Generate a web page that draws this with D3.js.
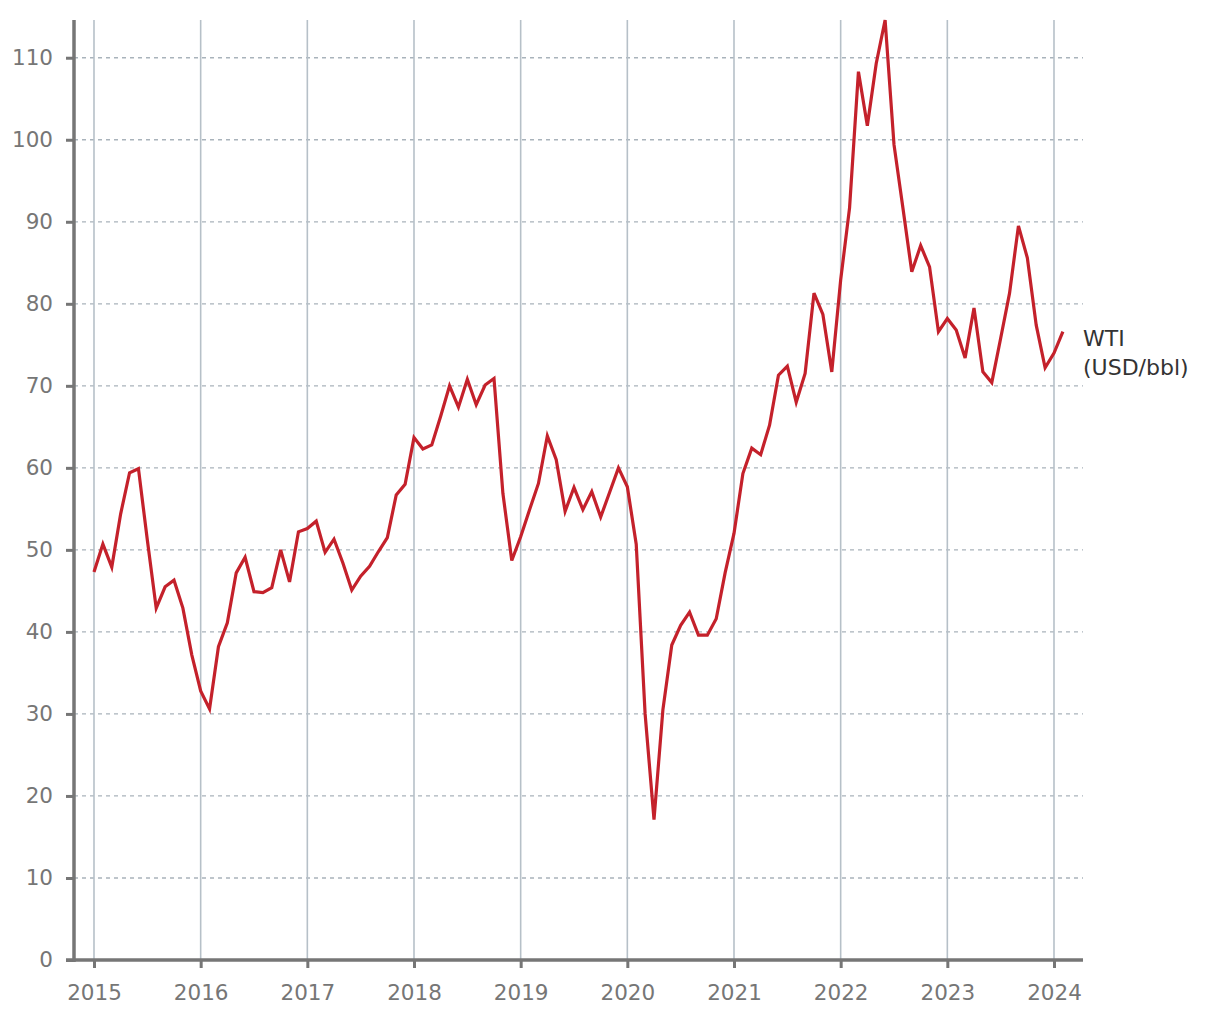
<!DOCTYPE html>
<html>
<head>
<meta charset="utf-8">
<script src="https://cdn.jsdelivr.net/npm/d3@7"></script>
<style>
  html, body { margin: 0; padding: 0; background: #fff; }
  svg { display: block; }
</style>
</head>
<body>
<script>
// ---- data ----
const startYear = 2015;
const wti = [
  // 2015
  47.3, 50.7, 47.9, 54.4, 59.4, 59.9, 51.2, 42.9, 45.5, 46.3, 42.9, 37.2,
  // 2016
  32.8, 30.6, 38.2, 41.1, 47.2, 49.1, 44.9, 44.8, 45.4, 50.0, 46.1, 52.2,
  // 2017
  52.6, 53.5, 49.7, 51.3, 48.4, 45.1, 46.8, 48.0, 49.8, 51.5, 56.7, 58.0,
  // 2018
  63.7, 62.3, 62.8, 66.3, 70.0, 67.4, 70.8, 67.7, 70.1, 70.9, 56.9, 48.7,
  // 2019
  51.6, 54.9, 58.1, 63.9, 61.0, 54.7, 57.6, 54.9, 57.1, 54.0, 57.0, 60.0,
  // 2020
  57.7, 50.7, 30.0, 17.1, 30.5, 38.4, 40.8, 42.4, 39.6, 39.6, 41.6, 47.2,
  // 2021
  52.0, 59.3, 62.4, 61.6, 65.2, 71.3, 72.4, 68.0, 71.5, 81.3, 78.7, 71.7,
  // 2022
  82.9, 91.7, 108.3, 101.7, 109.3, 114.6, 99.4, 91.7, 83.9, 87.1, 84.5, 76.6,
  // 2023
  78.2, 76.8, 73.4, 79.5, 71.7, 70.4, 75.8, 81.3, 89.5, 85.6, 77.4, 72.2,
  // 2024
  74.0, 76.6
];
const yearTicks = [2015, 2016, 2017, 2018, 2019, 2020, 2021, 2022, 2023, 2024];
const yTicks = [0, 10, 20, 30, 40, 50, 60, 70, 80, 90, 100, 110];
const seriesLabel = ["WTI", "(USD/bbl)"];

// ---- layout ----
const W = 1220, H = 1020;
const plotTop = 20, plotBottom = 960;
const axisLeftX = 74, axisRightX = 1083;

const data = wti.map((v, i) => ({ t: i / 12 + startYear, v }));

const x = d3.scaleLinear().domain([2015, 2024]).range([94, 1054]);
const y = d3.scaleLinear().domain([0, d3.max(wti)]).range([plotBottom, plotTop]);

const svg = d3.select("body").append("svg").attr("width", W).attr("height", H);
const font = "'DejaVu Sans', Verdana, sans-serif";

// horizontal dashed grid
svg.append("g").selectAll("line").data(yTicks.filter(d => d > 0)).join("line")
  .attr("x1", axisLeftX).attr("x2", axisRightX)
  .attr("y1", d => y(d)).attr("y2", d => y(d))
  .attr("stroke", "#a9b3bb").attr("stroke-width", 1.3)
  .attr("stroke-dasharray", "4,4");

// vertical grid
svg.append("g").selectAll("line").data(yearTicks).join("line")
  .attr("x1", d => x(d)).attr("x2", d => x(d))
  .attr("y1", plotTop).attr("y2", plotBottom)
  .attr("stroke", "#b6c0c8").attr("stroke-width", 1.6);

// x axis
const xAxis = d3.axisBottom(x).tickValues(yearTicks).tickFormat(d3.format("d"))
  .tickSize(8).tickPadding(17);
const gx = svg.append("g").attr("transform", `translate(0,${plotBottom})`).call(xAxis);
gx.select(".domain").remove();
gx.append("line").attr("x1", 66).attr("x2", axisRightX).attr("y1", 0).attr("y2", 0)
  .attr("stroke", "#767676").attr("stroke-width", 3.5);
gx.selectAll(".tick line").attr("stroke", "#767676").attr("stroke-width", 3);
gx.selectAll(".tick text").attr("fill", "#767676").attr("font-size", 21.5).attr("font-family", font);

// y axis
const yAxis = d3.axisLeft(y).tickValues(yTicks).tickSize(8).tickPadding(13);
const gy = svg.append("g").attr("transform", `translate(${axisLeftX},0)`).call(yAxis);
gy.select(".domain").remove();
gy.append("line").attr("x1", 0).attr("x2", 0).attr("y1", plotTop).attr("y2", plotBottom + 2)
  .attr("stroke", "#767676").attr("stroke-width", 3.5);
gy.selectAll(".tick line").attr("stroke", "#767676").attr("stroke-width", 3);
gy.selectAll(".tick text").attr("fill", "#767676").attr("font-size", 21.5).attr("font-family", font);

// line
const line = d3.line().x(d => x(d.t)).y(d => y(d.v));
svg.append("path").datum(data)
  .attr("d", line)
  .attr("fill", "none")
  .attr("stroke", "#c4212b")
  .attr("stroke-width", 3.2)
  .attr("stroke-linejoin", "miter");

// label
const last = data[data.length - 1];
const lbl = svg.append("text")
  .attr("x", axisRightX)
  .attr("y", y(last.v) + 14)
  .attr("fill", "#333")
  .attr("font-size", 22)
  .attr("font-family", font);
lbl.selectAll("tspan").data(seriesLabel).join("tspan")
  .attr("x", axisRightX)
  .attr("dy", (d, i) => i === 0 ? 0 : 29)
  .text(d => d);
</script>
</body>
</html>
